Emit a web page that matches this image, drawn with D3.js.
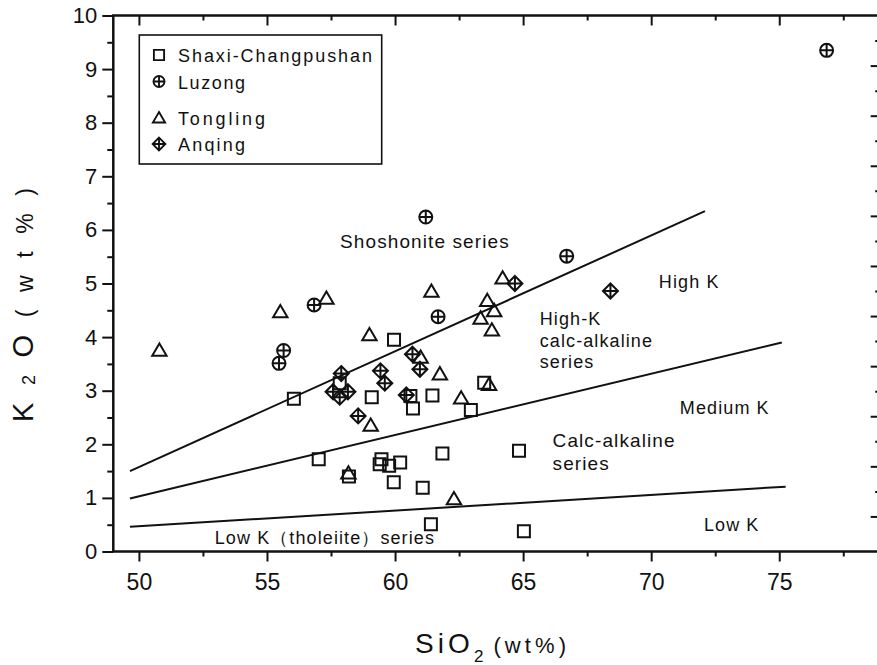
<!DOCTYPE html>
<html lang="en">
<head>
<meta charset="UTF-8">
<script src="https://d3js.org/d3.v7.min.js"></script>
<title>K2O vs SiO2</title>
<style>
    body{ margin:0; background:#fff; }
    svg{ display:block; }
</style>
</head>
<body>
<div id="app"></div>
<script>
    const svg_width = 877;
    const svg_height = 665;
    const plot_left = 113.3, plot_right = 881.7, plot_top = 15.5, plot_bottom = 551.5;

    // SiO2 / K2O (wt%)
    const shaxi_x = [59.96, 57.84, 56.05, 59.09, 60.6, 61.46, 60.7, 62.96, 63.48, 64.84, 57.02, 58.2, 59.47, 59.4, 59.77, 60.2, 61.85, 59.95, 61.08, 61.4, 65.03];
    const shaxi_y = [3.95, 3.14, 2.85, 2.88, 2.90, 2.91, 2.67, 2.64, 3.15, 1.88, 1.72, 1.40, 1.72, 1.63, 1.60, 1.66, 1.83, 1.29, 1.19, 0.51, 0.38];

    const luzong_x = [55.47, 55.65, 56.84, 61.2, 61.68, 66.7, 76.85];
    const luzong_y = [3.51, 3.75, 4.60, 6.24, 4.38, 5.51, 9.35];

    const tongling_x = [50.8, 55.52, 57.32, 61.42, 64.2, 63.6, 63.87, 63.34, 63.78, 59.0, 61.0, 61.75, 63.67, 62.58, 59.05, 58.18, 62.3];
    const tongling_y = [3.75, 4.47, 4.72, 4.85, 5.10, 4.68, 4.49, 4.35, 4.13, 4.04, 3.62, 3.31, 3.11, 2.86, 2.35, 1.46, 0.98];

    const anqing_x = [64.68, 68.41, 57.9, 57.58, 58.16, 57.84, 60.68, 59.43, 60.97, 59.6, 60.44, 58.56];
    const anqing_y = [5.0, 4.86, 3.32, 2.98, 2.98, 2.88, 3.68, 3.37, 3.40, 3.14, 2.92, 2.53];

    // series boundary lines (start, end)
    const bound_x = [[49.65, 72.1], [49.65, 75.1], [49.65, 75.25]];
    const bound_y = [[1.5, 6.35], [0.99, 3.9], [0.46, 1.21]];

    const x_ticks = [50, 55, 60, 65, 70, 75];
    const x_minor = [52.5, 57.5, 62.5, 67.5, 72.5, 77.5];
    const y_ticks = [0, 1, 2, 3, 4, 5, 6, 7, 8, 9, 10];
    const y_minor = [0.5, 1.5, 2.5, 3.5, 4.5, 5.5, 6.5, 7.5, 8.5, 9.5];
    const r_ticks = [0, 1, 2, 3, 4, 5, 6, 7, 8, 9];
    const r_minor = [0.5, 1.5, 2.5, 3.5, 4.5, 5.5, 6.5, 7.5, 8.5, 9.5];

    const series_names = ['Shaxi-Changpushan', 'Luzong', 'Tongling', 'Anqing'];
    const series_kinds = ['square', 'circlePlus', 'triangle', 'diamondPlus'];

    const font = 'Liberation Sans, Arial, sans-serif';
    const ink = '#111';

    function markPath(kind) {
        if (kind === 'square') return 'M-6,-6h12v12h-12Z';
        if (kind === 'circlePlus') return 'M-6.5,0a6.5,6.5 0 1,0 13,0a6.5,6.5 0 1,0 -13,0M-6.5,0H6.5M0,-6.5V6.5';
        if (kind === 'triangle') return 'M0,-7L7.2,5.3H-7.2Z';
        return 'M0,-7.5L7.5,0L0,7.5L-7.5,0ZM-7.5,0H7.5M0,-7.5V7.5';
    }

    var svg = d3.select('#app')
        .append('svg')
        .attr('width', svg_width)
        .attr('height', svg_height)

    var x_scale = d3.scaleLinear().domain([49, 79]).range([plot_left, plot_right]);
    var y_scale = d3.scaleLinear().domain([0, 10]).range([plot_bottom, plot_top]);
    var r_scale = d3.scaleLinear().domain([-0.7, 10]).range([plot_bottom, plot_top]);

    function axisStyle(g) {
        g.select('.domain').remove();
        g.selectAll('line').attr('stroke', ink).attr('stroke-width', 2);
    }

    // bottom axis
    svg.append('g')
        .attr('transform', 'translate(0,' + plot_bottom + ')')
        .call(d3.axisBottom(x_scale).tickValues(x_ticks).tickSize(10).tickPadding(12).tickFormat(d3.format('d')))
        .call(axisStyle)
        .selectAll('text')
        .attr('font-family', font)
        .attr('font-size', 23)
        .attr('fill', ink);
    svg.append('g')
        .attr('transform', 'translate(0,' + plot_bottom + ')')
        .call(d3.axisBottom(x_scale).tickValues(x_minor).tickSize(5).tickFormat(''))
        .call(axisStyle);

    // top axis (ticks inside)
    svg.append('g')
        .attr('transform', 'translate(0,' + plot_top + ')')
        .call(d3.axisBottom(x_scale).tickValues(x_ticks).tickSize(10).tickFormat(''))
        .call(axisStyle);
    svg.append('g')
        .attr('transform', 'translate(0,' + plot_top + ')')
        .call(d3.axisBottom(x_scale).tickValues(x_minor).tickSize(5).tickFormat(''))
        .call(axisStyle);

    // left axis
    svg.append('g')
        .attr('transform', 'translate(' + plot_left + ',0)')
        .call(d3.axisLeft(y_scale).tickValues(y_ticks).tickSize(11).tickPadding(5).tickFormat(d3.format('d')))
        .call(axisStyle)
        .selectAll('text')
        .attr('font-family', font)
        .attr('font-size', 22)
        .attr('fill', ink);
    svg.append('g')
        .attr('transform', 'translate(' + plot_left + ',0)')
        .call(d3.axisLeft(y_scale).tickValues(y_minor).tickSize(6).tickFormat(''))
        .call(axisStyle);

    // right axis (ticks inside)
    svg.append('g')
        .attr('transform', 'translate(' + plot_right + ',0)')
        .call(d3.axisLeft(r_scale).tickValues(r_ticks).tickSize(11).tickFormat(''))
        .call(axisStyle);
    svg.append('g')
        .attr('transform', 'translate(' + plot_right + ',0)')
        .call(d3.axisLeft(r_scale).tickValues(r_minor).tickSize(6.5).tickFormat(''))
        .call(axisStyle);

    // frame
    svg.append('rect')
        .attr('x', plot_left)
        .attr('y', plot_top)
        .attr('width', plot_right - plot_left)
        .attr('height', plot_bottom - plot_top)
        .attr('fill', 'none')
        .attr('stroke', ink)
        .attr('stroke-width', 2.5);

    // boundary lines
    var line = d3.line()
        .x(function (d) { return x_scale(d[0]); })
        .y(function (d) { return y_scale(d[1]); });
    svg.append('g')
        .selectAll('path')
        .data(bound_x.map(function (xs, i) { return xs.map(function (v, j) { return [v, bound_y[i][j]]; }); }))
        .enter()
        .append('path')
        .attr('d', line)
        .attr('fill', 'none')
        .attr('stroke', ink)
        .attr('stroke-width', 2);

    // field labels
    const notes = [
        { t: 'Shoshonite series', x: 64.48, y: 5.66, a: 'end', s: 19 },
        { t: 'High K', x: 70.3, y: 4.92, a: 'start', s: 18 },
        { t: 'High-K', x: 65.65, y: 4.22, a: 'start', s: 18 },
        { t: 'calc-alkaline', x: 65.65, y: 3.81, a: 'start', s: 18 },
        { t: 'series', x: 65.65, y: 3.42, a: 'start', s: 18 },
        { t: 'Medium K', x: 71.12, y: 2.57, a: 'start', s: 18 },
        { t: 'Calc-alkaline', x: 66.15, y: 1.95, a: 'start', s: 19 },
        { t: 'series', x: 66.15, y: 1.52, a: 'start', s: 19 },
        { t: 'Low K', x: 72.06, y: 0.38, a: 'start', s: 18 },
        { t: 'Low K\uFF08tholeiite\uFF09series', x: 52.96, y: 0.14, a: 'start', s: 18 }
    ];
    svg.append('g')
        .selectAll('text')
        .data(notes)
        .enter()
        .append('text')
        .text(function (d) { return d.t; })
        .attr('x', function (d) { return x_scale(d.x); })
        .attr('y', function (d) { return y_scale(d.y); })
        .attr('text-anchor', function (d) { return d.a; })
        .attr('font-family', font)
        .attr('font-size', function (d) { return d.s; })
        .attr('letter-spacing', 1.1)
        .attr('fill', ink);

    // data points
    const all_x = [shaxi_x, luzong_x, tongling_x, anqing_x];
    const all_y = [shaxi_y, luzong_y, tongling_y, anqing_y];
    all_x.forEach(function (xs, k) {
        svg.append('g')
            .selectAll('path')
            .data(xs.map(function (v, i) { return [v, all_y[k][i]]; }))
            .enter()
            .append('path')
            .attr('d', markPath(series_kinds[k]))
            .attr('transform', function (d) {
                return 'translate(' + x_scale(d[0]) + ',' + y_scale(d[1]) + ')';
            })
            .attr('fill', 'none')
            .attr('stroke', ink)
            .attr('stroke-width', 2);
    });

    // legend
    var legend = svg.append('g');
    legend.append('rect')
        .attr('x', 139.3).attr('y', 35)
        .attr('width', 242.4).attr('height', 129)
        .attr('fill', '#fff')
        .attr('stroke', ink)
        .attr('stroke-width', 1.6);
    const legend_rows = [62, 88.5, 125, 151];
    const legend_len = [194, 67, 87, 67];
    series_names.forEach(function (name, i) {
        legend.append('path')
            .attr('d', markPath(series_kinds[i]))
            .attr('transform', 'translate(159,' + (legend_rows[i] - 7) + ') scale(0.85)')
            .attr('fill', 'none')
            .attr('stroke', ink)
            .attr('stroke-width', 2.2);
        legend.append('text')
            .text(name)
            .attr('x', 178)
            .attr('y', legend_rows[i])
            .attr('font-family', font)
            .attr('font-size', 18)
            .attr('textLength', legend_len[i])
            .attr('lengthAdjust', 'spacing')
            .attr('fill', ink);
    });

    // axis titles
    var xt = svg.append('text')
        .attr('x', 415)
        .attr('y', 653)
        .attr('font-family', 'Liberation Sans Narrow, ' + font)
        .attr('textLength', 151)
        .attr('lengthAdjust', 'spacing')
        .attr('fill', ink);
    xt.append('tspan').attr('font-size', 28).text('SiO');
    xt.append('tspan').attr('font-size', 17).attr('dy', 9).text('2');
    xt.append('tspan').attr('font-size', 22).attr('dy', -9).attr('dx', 6).text('(wt%)');

    var yt = svg.append('text')
        .attr('transform', 'translate(33,305) rotate(-90)')
        .attr('text-anchor', 'middle')
        .attr('font-family', 'Liberation Sans Narrow, ' + font)
        .attr('textLength', 234)
        .attr('lengthAdjust', 'spacing')
        .attr('fill', ink);
    yt.append('tspan').attr('font-size', 29).text('K');
    yt.append('tspan').attr('font-size', 18).attr('dy', 2).text('2');
    yt.append('tspan').attr('font-size', 29).attr('dy', -2).text('O');
    yt.append('tspan').attr('font-size', 23).text('(wt%)');
</script>
</body>
</html>
